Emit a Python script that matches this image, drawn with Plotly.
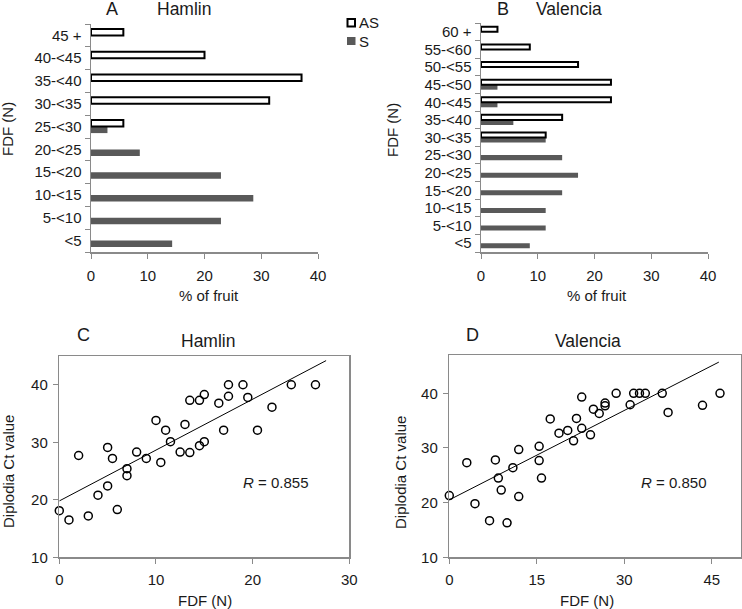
import plotly.graph_objects as go

W, H = 742, 609

# ---------------- data ----------------
cats_hamlin = ["<5", "5-<10", "10-<15", "15-<20", "20-<25", "25-<30",
               "30-<35", "35-<40", "40-<45", "45 +"]
as_hamlin = [None, None, None, None, None, 5.7, 31.4, 37.1, 20.0, 5.7]
s_hamlin = [14.3, 22.9, 28.6, 22.9, 8.6, 2.9, None, None, None, None]

cats_valencia = ["<5", "5-<10", "10-<15", "15-<20", "20-<25", "25-<30",
                 "30-<35", "35-<40", "40-<45", "45-<50", "50-<55", "55-<60", "60 +"]
as_valencia = [None, None, None, None, None, None, 11.4, 14.3, 22.9, 22.9, 17.1, 8.6, 2.9]
s_valencia = [8.6, 11.4, 11.4, 14.3, 17.1, 14.3, 11.4, 5.7, 2.9, 2.9, None, None, None]

fdf_hamlin = [0, 1, 2, 3, 4, 5, 5, 5.5, 6, 7, 7, 8, 9, 10, 10.5, 11, 11.5, 12.5,
              13, 13.5, 13.5, 14.5, 14.5, 15, 15, 16.5, 17, 17.5, 17.5, 19, 19.5,
              20.5, 22, 24, 26.5]
ct_hamlin = [18.1, 16.5, 27.7, 17.2, 20.8, 29.1, 22.4, 27.2, 18.3, 25.4, 24.2, 28.3,
             27.2, 33.8, 26.5, 32.1, 30.1, 28.3, 33.1, 37.3, 28.2, 37.3, 29.4, 38.3,
             30.1, 36.8, 32.1, 40.0, 38.0, 40.0, 37.8, 32.1, 36.1, 40.0, 40.0]
trend_x_hamlin = [0, 27.6]
trend_y_hamlin = [19.8, 44.2]

fdf_valencia = [0, 3.0, 4.4, 6.9, 7.9, 8.4, 8.9, 9.9, 10.9, 11.9, 11.9, 15.4, 15.4,
                15.8, 17.3, 18.8, 20.3, 21.3, 21.8, 22.7, 22.7, 24.2, 24.7, 25.7,
                26.7, 26.7, 28.6, 31.0, 31.6, 32.6, 33.6, 36.5, 37.5, 43.4, 46.4]
ct_valencia = [21.3, 27.3, 19.8, 16.7, 27.8, 24.5, 22.3, 16.3, 26.4, 29.7, 21.1, 30.3,
               27.7, 24.5, 35.3, 32.7, 33.2, 31.3, 35.4, 39.3, 33.6, 32.4, 37.1, 36.3,
               38.2, 37.7, 40.0, 37.9, 40.0, 40.0, 40.0, 40.0, 36.5, 37.8, 40.0]
trend_x_valencia = [0, 46.2]
trend_y_valencia = [20.5, 45.7]

r_hamlin = "0.855"
r_valencia = "0.850"

# ---------------- style ----------------
FONT = "Liberation Sans, Arial, sans-serif"
AXIS_GREY = "#8a8a8a"
BAR_GREY = "#595959"
TXT = "#1a1a1a"


def px(x):
    return x / W


def py(y):
    return 1 - y / H


fig = go.Figure()

# Bar panels (S first so that AS sits above within each group)
fig.add_trace(go.Bar(y=cats_hamlin, x=s_hamlin, orientation="h", name="S",
                     marker=dict(color=BAR_GREY, line=dict(width=0)),
                     xaxis="x", yaxis="y", showlegend=False))
fig.add_trace(go.Bar(y=cats_hamlin, x=as_hamlin, orientation="h", name="AS",
                     marker=dict(color="white", line=dict(color="black", width=2)),
                     xaxis="x", yaxis="y", showlegend=False))
fig.add_trace(go.Bar(y=cats_valencia, x=s_valencia, orientation="h", name="S",
                     marker=dict(color=BAR_GREY, line=dict(width=0)),
                     xaxis="x2", yaxis="y2", showlegend=False))
fig.add_trace(go.Bar(y=cats_valencia, x=as_valencia, orientation="h", name="AS",
                     marker=dict(color="white", line=dict(color="black", width=2)),
                     xaxis="x2", yaxis="y2", showlegend=False))

# Scatter panels
marker = dict(symbol="circle-open", size=8, color="black", line=dict(width=1.5))
fig.add_trace(go.Scatter(x=fdf_hamlin, y=ct_hamlin, mode="markers", marker=marker,
                         xaxis="x3", yaxis="y3", showlegend=False, cliponaxis=False))
fig.add_trace(go.Scatter(x=trend_x_hamlin, y=trend_y_hamlin, mode="lines",
                         line=dict(color="black", width=1),
                         xaxis="x3", yaxis="y3", showlegend=False))
fig.add_trace(go.Scatter(x=fdf_valencia, y=ct_valencia, mode="markers", marker=marker,
                         xaxis="x4", yaxis="y4", showlegend=False, cliponaxis=False))
fig.add_trace(go.Scatter(x=trend_x_valencia, y=trend_y_valencia, mode="lines",
                         line=dict(color="black", width=1),
                         xaxis="x4", yaxis="y4", showlegend=False))

tickfont = dict(family=FONT, size=15, color=TXT)
common = dict(automargin=False, showgrid=False, zeroline=False, tickfont=tickfont,
              showline=True, linecolor=AXIS_GREY, linewidth=1.5,
              ticks="outside", ticklen=5, tickcolor=AXIS_GREY, tickwidth=1)
bar_x = dict(common, range=[0, 40], dtick=10, tickmode="linear", tick0=0,
             ticklabelstandoff=4)
bar_y = dict(common, type="category", tickson="boundaries", tickmode="linear", dtick=1,
             ticklabelstandoff=5)
box_x = dict(common, mirror=True, ticklabelstandoff=3)
box_y = dict(common, mirror=True, ticklabelstandoff=2)

fig.update_layout(
    template="none",
    width=W, height=H,
    margin=dict(l=0, r=0, t=0, b=0, autoexpand=False),
    paper_bgcolor="white", plot_bgcolor="white",
    barmode="group", bargap=0.43, bargroupgap=0,
    font=dict(family=FONT, color=TXT),
    xaxis=dict(bar_x, domain=[px(91), px(318)], anchor="y"),
    yaxis=dict(bar_y, domain=[py(252), py(24)], anchor="x",
               categoryorder="array", categoryarray=cats_hamlin),
    xaxis2=dict(bar_x, domain=[px(481), px(708)], anchor="y2"),
    yaxis2=dict(bar_y, domain=[py(252), py(23)], anchor="x2",
                categoryorder="array", categoryarray=cats_valencia),
    xaxis3=dict(box_x, range=[0, 30], tickvals=[0, 10, 20, 30],
                domain=[px(59.3), px(349.3)], anchor="y3"),
    yaxis3=dict(box_y, range=[10, 45], tickvals=[10, 20, 30, 40],
                domain=[py(557.3), py(356)], anchor="x3"),
    xaxis4=dict(box_x, range=[0, 50], tickvals=[0, 15, 30, 45],
                domain=[px(449.3), px(741)], anchor="y4"),
    yaxis4=dict(box_y, range=[10, 47], tickvals=[10, 20, 30, 40],
                domain=[py(557.3), py(355)], anchor="x4"),
)

ann = []


def text(x, y, t, size=15, rot=0, xanchor="center"):
    ann.append(dict(x=px(x), y=py(y), xref="paper", yref="paper", text=t,
                    showarrow=False, xanchor=xanchor, yanchor="middle", textangle=rot,
                    font=dict(family=FONT, size=size, color=TXT)))


# panel letters and titles
text(112, 9, "A", 18)
text(184, 9, "Hamlin", 17.5)
text(503, 9, "B", 18)
text(569, 9, "Valencia", 17.5)
text(83, 335, "C", 18)
text(208, 341, "Hamlin", 17.5)
text(473, 335, "D", 18)
text(588, 341, "Valencia", 17.5)
# axis titles
text(209, 295, "% of fruit")
text(597, 295, "% of fruit")
text(8, 129, "FDF (N)", rot=-90)
text(393, 130, "FDF (N)", rot=-90)
text(205, 600, "FDF (N)")
text(587, 600, "FDF (N)")
text(8, 472, "Diplodia Ct value", rot=-90)
text(400, 472, "Diplodia Ct value", rot=-90)
# R values
text(275, 482, "<i>R</i> = " + r_hamlin)
text(673, 482, "<i>R</i> = " + r_valencia)
# legend labels
text(357, 22.5, "AS", xanchor="left")
text(357, 41.5, "S", xanchor="left")
fig.update_layout(annotations=ann)

fig.update_layout(shapes=[
    dict(type="rect", xref="paper", yref="paper", x0=px(347.5), x1=px(355), y0=py(26.5), y1=py(19),
         line=dict(color="black", width=2), fillcolor="white"),
    dict(type="rect", xref="paper", yref="paper", x0=px(347), x1=px(355.5), y0=py(45), y1=py(37),
         line=dict(width=0), fillcolor=BAR_GREY),
])

fig.write_html("out.html", config={"displayModeBar": False, "staticPlot": True},
               post_script="document.body.style.margin='0';document.body.style.overflow='hidden';")
